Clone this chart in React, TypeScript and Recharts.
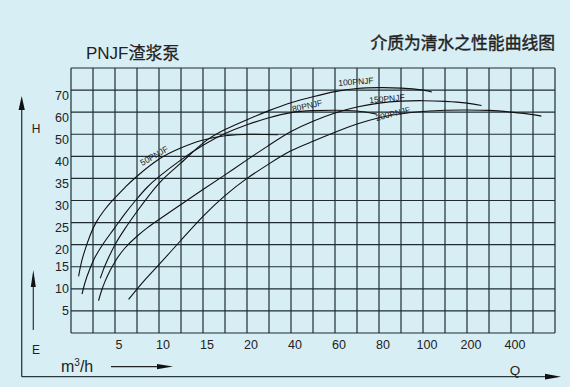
import React from 'react';
import { LineChart, Line, XAxis, YAxis, CartesianGrid, ReferenceDot } from 'recharts';

// Flow axis (Q, m³/h): labelled values at grid positions (non-linear paper scale)
const qKnots = [0, 5, 10, 15, 20, 40, 60, 80, 100, 200, 400, 600];
const qKnotPos = [0, 2, 4, 6, 8, 10, 12, 14, 16, 18, 20, 22];
// Head axis (H, m)
const hKnots = [0, 5, 10, 15, 20, 25, 30, 35, 40, 50, 60, 70, 80];
const hKnotPos = [0, 1, 2, 3, 4, 5, 6, 7, 8, 9, 10, 11, 12];

const xTickLabels = ['', '', '5', '', '10', '', '15', '', '20', '', '40', '', '60', '', '80', '', '100', '', '200', '', '400', '', ''];
const yTickLabels = ['', '5', '10', '15', '20', '25', '30', '35', '40', '50', '60', '70', ''];

// Performance curves [Q, H]
const pnjf50: number[][] = [[0.86, 12.8], [1.17, 15.9], [1.62, 19], [2.19, 22.2], [2.87, 25.1], [3.78, 27.8], [4.8, 30.2], [6.16, 33], [7.5, 35.5], [10.1, 39.5], [12.4, 43.7], [14.7, 47.1], [17.5, 49.3], [21.4, 50], [34.1, 49.8]];
const pnjf80: number[][] = [[1.25, 8.8], [1.62, 11.6], [2.08, 14.2], [2.64, 16.8], [3.33, 19.2], [4.12, 21.5], [5, 23.9], [6.16, 27.1], [7.5, 30.4], [8.66, 33], [10, 35.4], [12.5, 39.2], [15, 45], [17.5, 50.3], [20, 54.3], [30, 57.5], [40, 59.8], [50, 60.7], [60, 60.9], [70, 60.5], [79, 59.1]];
const pnjf100: number[][] = [[3.33, 12.4], [3.67, 14.3], [4.12, 16.4], [5, 20], [6.16, 23.7], [7.5, 27.5], [10, 33.9], [12.5, 38.5], [15, 46], [17.5, 52.1], [20, 56.6], [30, 60.7], [40, 64.3], [50, 67], [60, 69.3], [70, 70.7], [80, 71.1], [90, 70.9], [100, 70], [120, 69.1]];
const pnjf150: number[][] = [[3.13, 7.3], [3.44, 9.4], [3.89, 11.8], [4.46, 14.2], [5.14, 16.6], [6.16, 19.3], [7.5, 21.9], [8.66, 23.8], [10, 25.7], [12.5, 29.1], [15, 32.5], [17.5, 35.8], [20, 39.2], [30, 45], [40, 51.2], [50, 55.9], [60, 59.6], [70, 62.3], [80, 64.1], [90, 65], [100, 65.2], [150, 64.9], [200, 64.1], [266, 63]];
const pnjf200: number[][] = [[6.54, 7.6], [8.2, 11.6], [10, 15.5], [12.5, 21], [15, 26.4], [17.5, 31.1], [20, 35], [30, 38.3], [40, 42.5], [50, 46.8], [60, 50.9], [70, 54.6], [80, 57.5], [90, 59.3], [100, 60.3], [150, 60.9], [200, 61], [300, 60.8], [400, 60], [500, 58.9], [538, 58.2]];

const curveNames = ['50PNJF', '80PNJF', '100PNJF', '150PNJF', '200PNJF'];
const curveData = [pnjf50, pnjf80, pnjf100, pnjf150, pnjf200];
// label anchor [Q, H, angle]
const curveLabels: number[][] = [[9.45, 40.3, -30], [47.3, 62.9, -12], [69.5, 73.8, -4], [83.6, 66.1, -5], [86.3, 59.3, -14]];

function interp(v: number, from: number[], to: number[]) {
  for (let i = 0; i < from.length - 1; i++) {
    if (v <= from[i + 1] || i === from.length - 2) {
      const t = (v - from[i]) / (from[i + 1] - from[i]);
      return to[i] + t * (to[i + 1] - to[i]);
    }
  }
  return to[to.length - 1];
}
const qPos = (q: number) => interp(q, qKnots, qKnotPos);
const hPos = (h: number) => interp(h, hKnots, hKnotPos);

const series = curveData.map((pts) => pts.map(([q, h]) => ({ x: qPos(q), y: hPos(h) })));

const FONT = '"Liberation Sans", Arial, sans-serif';
const CJK = '"Noto Sans CJK SC", "Liberation Sans", sans-serif';
const INK = '#222';

const XTick = (props: any) => {
  const { x, y, payload } = props;
  const label = xTickLabels[payload.value];
  if (!label) return <g />;
  return (
    <text x={x + 4} y={y + 16} textAnchor="middle" fontSize={12.5} fill={INK} fontFamily={FONT}>{label}</text>
  );
};

const YTick = (props: any) => {
  const { x, y, payload } = props;
  const label = yTickLabels[payload.value];
  if (!label) return <g />;
  const dy = payload.value >= 4 ? 5 : 0;
  return (
    <text x={x - 2} y={y + 4.5 + dy} textAnchor="end" fontSize={12.5} fill={INK} fontFamily={FONT}>{label}</text>
  );
};

const makeLabel = (text: string, angle: number) => (props: any) => {
  const vb = props.viewBox || {};
  const cx = vb.x + (vb.width || 0) / 2;
  const cy = vb.y + (vb.height || 0) / 2;
  return (
    <text x={cx} y={cy} textAnchor="middle" dominantBaseline="central" fontSize={8.5} fill="#1a1a1a" fontFamily={FONT}
      transform={`rotate(${angle} ${cx} ${cy})`}>{text}</text>
  );
};

export default function App() {
  const xTicks = Array.from({ length: 23 }, (_, i) => i);
  const yTicks = Array.from({ length: 13 }, (_, i) => i);
  return (
    <div style={{ position: 'absolute', left: 0, top: 0, width: 570, height: 387, background: '#d8eef5', overflow: 'hidden' }}>
      <div style={{ position: 'absolute', left: 0, top: 0 }}>
        <LineChart width={570} height={387} margin={{ top: 68, right: 15, bottom: 0, left: 0 }}>
          <CartesianGrid stroke="#1f2d33" strokeWidth={1.2} horizontal vertical />
          <XAxis type="number" dataKey="x" domain={[0, 22]} ticks={xTicks} interval={0} height={54}
            axisLine={false} tickLine={false} tickSize={0} tickMargin={0} tick={<XTick />} allowDataOverflow />
          <YAxis type="number" dataKey="y" domain={[0, 12]} ticks={yTicks} interval={0} width={71}
            axisLine={false} tickLine={false} tickSize={0} tickMargin={0} tick={<YTick />} allowDataOverflow />
          {series.map((d, i) => (
            <Line key={curveNames[i]} name={curveNames[i]} data={d} dataKey="y" type="natural" stroke="#111"
              strokeWidth={1.1} dot={false} activeDot={false} isAnimationActive={false} />
          ))}
          {curveLabels.map(([q, h, a], i) => (
            <ReferenceDot key={'l' + i} x={qPos(q)} y={hPos(h)} r={0} fill="none" stroke="none"
              label={makeLabel(curveNames[i], a)} />
          ))}
        </LineChart>
      </div>
      <svg width={570} height={387} style={{ position: 'absolute', left: 0, top: 0, pointerEvents: 'none' }}>
        <text x={86} y={59} fontSize={17} fill={INK} fontFamily={CJK}>
          <tspan fontFamily={FONT}>PNJF</tspan><tspan stroke={INK} strokeWidth={0.25}>渣浆泵</tspan>
        </text>
        <text x={555} y={49} textAnchor="end" fontSize={16.8} fill={INK} fontFamily={CJK} stroke={INK} strokeWidth={0.4}>介质为清水之性能曲线图</text>
        {/* outer frame with arrows */}
        <line x1={21.7} y1={106} x2={21.7} y2={376.7} stroke="#2a3a40" strokeWidth={1.3} />
        <polygon points="21.7,96 18.6,110 24.8,110" fill="#111" />
        <line x1={21.7} y1={376.7} x2={548} y2={376.7} stroke="#2a3a40" strokeWidth={1.3} />
        <polygon points="561,376.7 545,373.8 545,379.6" fill="#111" />
        <text x={36} y={133} textAnchor="middle" fontSize={12} fill={INK} fontFamily={FONT}>H</text>
        <line x1={33.3} y1={330} x2={33.3} y2={283} stroke="#333" strokeWidth={1.2} />
        <polygon points="33.3,270 30.8,287 35.8,287" fill="#111" />
        <text x={36} y={354} textAnchor="middle" fontSize={12} fill={INK} fontFamily={FONT}>E</text>
        <text x={61} y={372} fontSize={16} fill={INK} fontFamily={FONT}>m<tspan fontSize={10} dy={-6}>3</tspan><tspan dy={6}>/h</tspan></text>
        <line x1={111} y1={366.6} x2={160} y2={366.6} stroke="#222" strokeWidth={1.2} />
        <polygon points="173,366.6 157,363.9 157,369.3" fill="#111" />
        <text x={515} y={375} textAnchor="middle" fontSize={13.5} fill={INK} fontFamily={FONT}>Q</text>
      </svg>
    </div>
  );
}
